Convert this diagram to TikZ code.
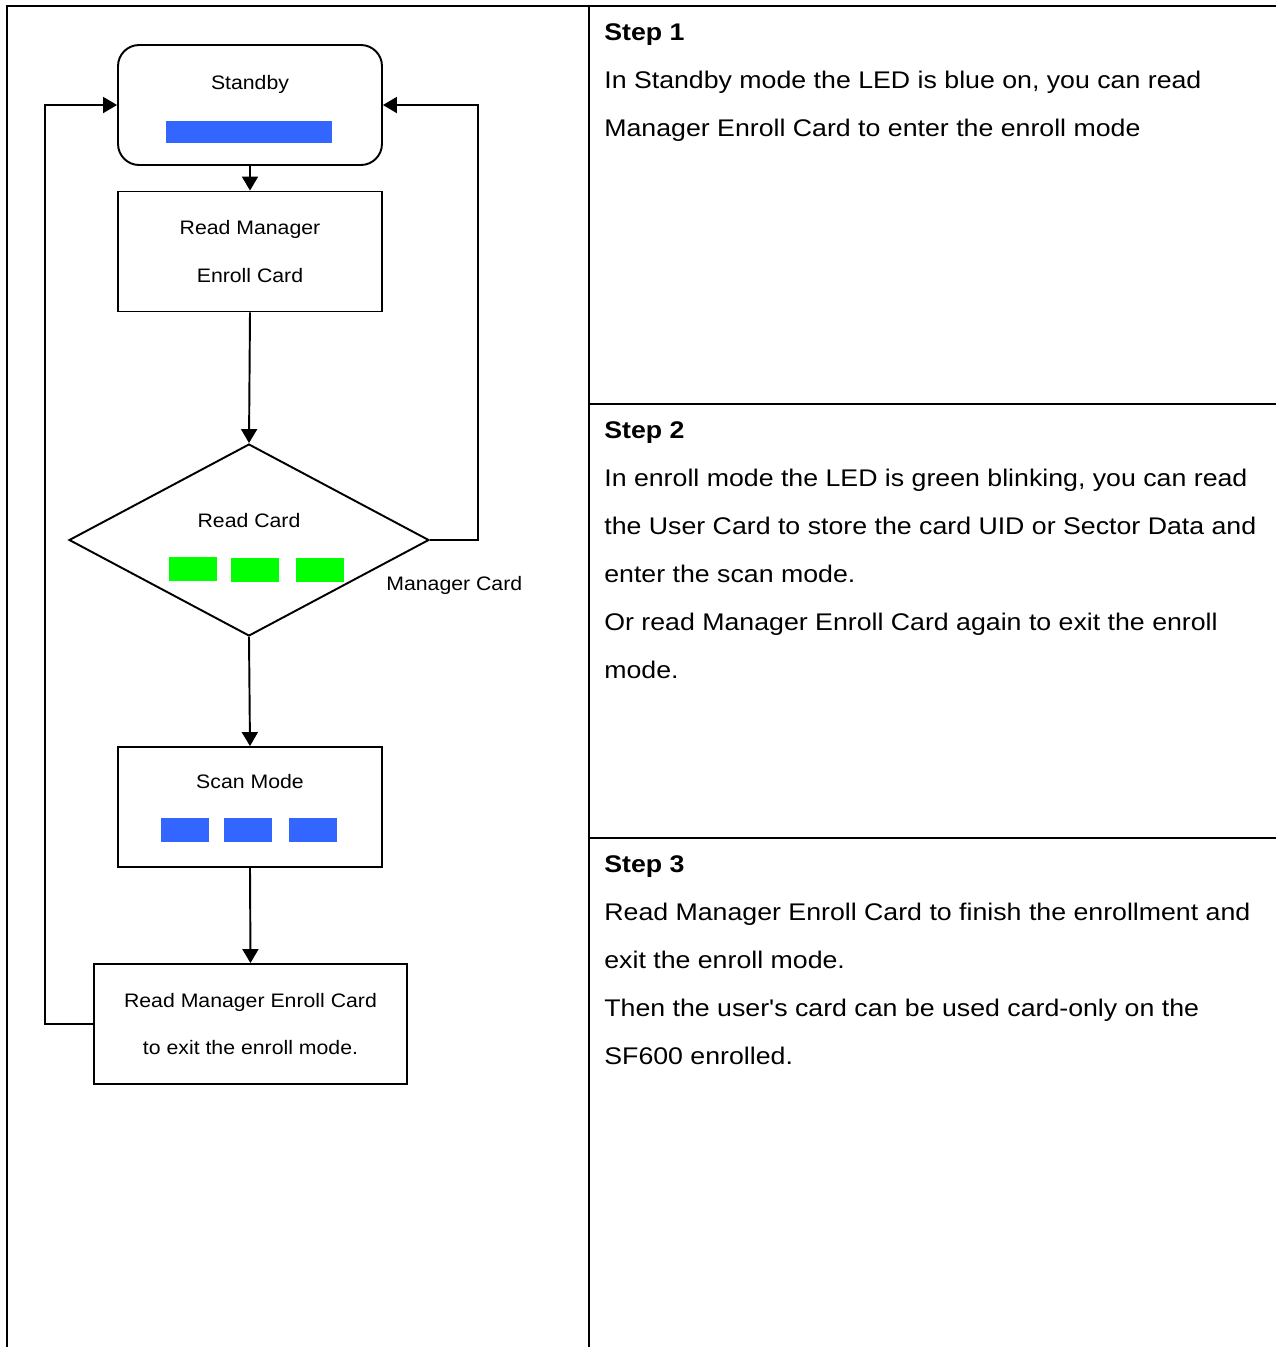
\documentclass[tikz,border=0pt]{standalone}
\usepackage{fontspec}
\setmainfont{Liberation Sans}
\newfontfamily\stepfont[FakeStretch=1.11]{Liberation Sans}
\newfontfamily\flowfont[FakeStretch=1.09]{Liberation Sans}
\usepackage{xcolor}
\usepackage{tikz}
\usetikzlibrary{arrows.meta}
\usetikzlibrary{shapes.geometric}
\definecolor{ledblue}{RGB}{51,102,255}
\definecolor{ledgreen}{RGB}{0,255,0}

\begin{document}
\begin{tikzpicture}[x=0.02cm,y=-0.02cm,
  flowbox/.style={draw,line width=1.1pt,minimum width=5.28cm,minimum height=2.4cm,inner sep=0pt},
  flowtext/.style={font={\flowfont\fontsize{11.1}{27.3}\selectfont},align=center,inner sep=0pt},
  steptext/.style={font={\stepfont\fontsize{13.7}{27.3}\selectfont},align=left,anchor=base west,inner sep=0pt},
  arr/.style={line width=1.1pt,-{Triangle[length=2.8mm,width=3.2mm]}},
  tableline/.style={line width=1.2pt}]
\useasboundingbox (0,0) rectangle (1276,1347);

% table
\draw[tableline] (7,1347) -- (7,6) -- (1276,6);
\draw[tableline] (589,6) -- (589,1347);
\draw[tableline] (589,404) -- (1276,404);
\draw[tableline] (589,838) -- (1276,838);

% flow chart
\node[flowbox,rounded corners=12pt] (standby) at (250,105) {};
\node[flowtext] (standbylbl) at (250,84) {Standby};
\fill[ledblue] (166,121) rectangle (332,143);

\node[flowbox,flowtext] (rmec) at (250,251.5) {Read Manager\\Enroll Card};

\node[draw,line width=1.1pt,diamond,minimum width=7.2cm,minimum height=3.84cm,inner sep=0pt] (readcard) at (249,540) {};
\node[flowtext] (readcardlbl) at (249,521) {Read Card};
\fill[ledgreen] (169,557) rectangle (217,581);
\fill[ledgreen] (231,558) rectangle (279,582);
\fill[ledgreen] (296,558) rectangle (344,582);
\node[flowtext,anchor=base west] (mgrlbl) at (386,590) {Manager Card};

\node[flowbox] (scan) at (250,807) {};
\node[flowtext] (scanlbl) at (250,782) {Scan Mode};
\fill[ledblue] (161,818) rectangle (209,842);
\fill[ledblue] (224,818) rectangle (272,842);
\fill[ledblue] (289,818) rectangle (337,842);

\node[flowbox,flowtext,minimum width=6.26cm] (exitbox) at (250.5,1024) {Read Manager Enroll Card\\to exit the enroll mode.};

\draw[arr] (standby.south) -- (rmec.north);
\draw[arr] (rmec.south) -- (readcard.north);
\draw[arr] (readcard.east) -- ++(48,0) |- (standby.east);
\draw[arr] (readcard.south) -- (scan.north);
\draw[arr] (scan.south) -- (exitbox.north);
\draw[arr] (exitbox.west) -- ++(-48,0) |- (standby.west);

% steps (base = last line)
\node[steptext] (step1) at (604,136) {\textbf{Step 1}\\In Standby mode the LED is blue on, you can read\\Manager Enroll Card to enter the enroll mode};
\node[steptext] (step2) at (604,678) {\textbf{Step 2}\\In enroll mode the LED is green blinking, you can read\\the User Card to store the card UID or Sector Data and\\enter the scan mode.\\Or read Manager Enroll Card again to exit the enroll\\mode.};
\node[steptext] (step3) at (604,1064) {\textbf{Step 3}\\Read Manager Enroll Card to finish the enrollment and\\exit the enroll mode.\\Then the user's card can be used card-only on the\\SF600 enrolled.};
\end{tikzpicture}
\end{document}
